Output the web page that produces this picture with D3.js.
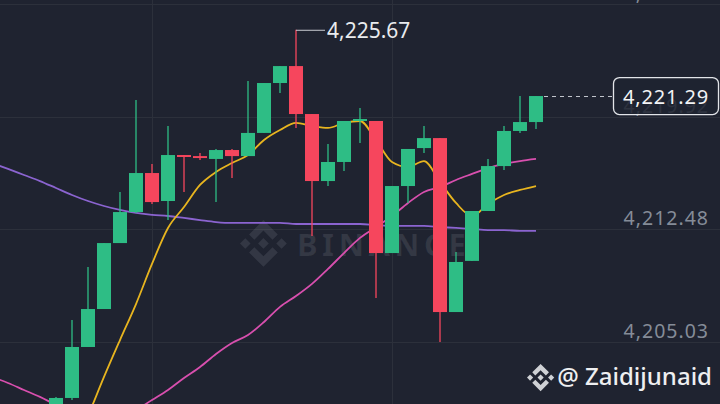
<!DOCTYPE html>
<html>
<head>
<meta charset="utf-8">
<script src="https://cdn.jsdelivr.net/npm/d3@7"></script>
<style>
  html, body { margin: 0; padding: 0; background: #1f2330; overflow: hidden; }
  .chart { width: 720px; height: 404px; }
</style>
</head>
<body>
<div class="chart"></div>
<script>
// candles, left to right (first visible one is index 0)
const opens  = [4199.90, 4201.33, 4204.70, 4207.21, 4211.57, 4213.62, 4216.20, 4214.35, 4217.39, 4217.32,
                4217.13, 4217.72, 4217.32, 4218.85, 4222.15, 4223.27, 4220.10, 4215.67, 4216.93, 4219.64,
                4219.64, 4210.91, 4215.34, 4217.85, 4218.51, 4207.01, 4210.39, 4213.69, 4216.66, 4218.98, 4219.57];
const highs  = [4201.40, 4206.49, 4209.99, 4211.57, 4214.95, 4221.03, 4216.80, 4219.31, 4217.39, 4217.52,
                4217.79, 4217.79, 4222.28, 4222.15, 4223.27, 4225.67, 4220.10, 4218.12, 4219.64, 4220.50,
                4219.64, 4215.34, 4217.79, 4219.31, 4218.51, 4210.98, 4213.69, 4217.13, 4219.31, 4221.29, 4221.29];
const lows   = [4199.50, 4201.20, 4204.70, 4207.21, 4211.57, 4213.56, 4214.15, 4213.09, 4214.95, 4217.06,
                4214.28, 4215.87, 4217.32, 4218.85, 4221.49, 4219.18, 4212.04, 4215.34, 4216.33, 4218.18,
                4207.94, 4210.91, 4214.22, 4217.52, 4205.03, 4207.01, 4210.39, 4213.69, 4216.40, 4218.85, 4219.11];
const closes = [4201.33, 4204.70, 4207.21, 4211.57, 4213.62, 4216.20, 4214.28, 4217.39, 4217.26, 4217.19,
                4217.72, 4217.32, 4218.85, 4222.15, 4223.27, 4220.10, 4215.67, 4216.93, 4219.64, 4219.77,
                4210.91, 4215.34, 4217.79, 4218.51, 4207.01, 4210.32, 4213.69, 4216.66, 4218.98, 4219.57, 4221.29];

// moving averages, these start 4 candles before the first visible candle
const maOffset = 4;
const ma7  = [null, null, null, null, null, 4197.76, 4200.14, 4202.72, 4205.16, 4207.54,
              4210.19, 4212.57, 4213.95, 4215.41, 4216.27, 4216.86, 4217.39, 4218.38, 4219.04, 4219.51,
              4219.31, 4219.18, 4219.51, 4219.64, 4218.38, 4216.93, 4216.60, 4216.99, 4215.61, 4214.22,
              4213.36, 4214.15, 4214.75, 4215.08, 4215.34];
const ma25 = [4202.72, 4202.32, 4201.86, 4201.40, 4200.87, 4200.41, 4200.01, 4199.88, 4200.08, 4200.54,
              4201.20, 4201.86, 4202.65, 4203.38, 4204.24, 4204.97, 4205.49, 4206.35, 4207.35, 4208.07,
              4208.87, 4209.86, 4210.91, 4211.91, 4212.63, 4213.36, 4214.22, 4214.95, 4215.28, 4215.74,
              4216.14, 4216.53, 4216.80, 4216.99, 4217.13];
const ma99 = [4216.86, 4216.47, 4216.07, 4215.67, 4215.21, 4214.75, 4214.35, 4214.02, 4213.76, 4213.56,
              4213.43, 4213.36, 4213.23, 4213.09, 4212.96, 4212.90, 4212.90, 4212.90, 4212.90, 4212.83,
              4212.83, 4212.83, 4212.83, 4212.83, 4212.76, 4212.70, 4212.70, 4212.70, 4212.63, 4212.57,
              4212.50, 4212.43, 4212.43, 4212.37, 4212.37];

const priceTicks = [4205.03, 4212.48, 4219.92, 4227.37];
const gridCandles = [6, 21];   // vertical grid lines sit on these candles
const lastPrice = 4221.29;
const maxPrice = 4225.67;
const maxIndex = 15;

const W = 720, H = 404;
const fmt = d3.format(",.2f");
const font = "'Noto Sans', 'Open Sans', sans-serif";

const svg = d3.select(".chart").append("svg")
  .attr("width", W).attr("height", H);

svg.append("rect").attr("width", W).attr("height", H).attr("fill", "#1f2330");

const x = d3.scaleLinear().domain([0, closes.length - 1]).range([56, 536]);
const y = d3.scaleLinear().domain([4205.03, 4212.48]).range([342, 229.3]);

//grid
const grid = svg.append("g").attr("stroke", "#2c303b").attr("stroke-width", 1);
grid.selectAll("line.h").data(priceTicks).enter().append("line")
  .attr("class", "h")
  .attr("x1", 0).attr("x2", W)
  .attr("y1", d => Math.round(y(d)) + 0.5).attr("y2", d => Math.round(y(d)) + 0.5);
grid.selectAll("line.v").data(gridCandles).enter().append("line")
  .attr("class", "v")
  .attr("y1", 0).attr("y2", H)
  .attr("x1", d => x(d) + 0.5).attr("x2", d => x(d) + 0.5);

//watermark
const logoPaths = [
  "M38.73 53.2L63.3 28.63L87.9 53.22L102.2 38.92L63.3 0L24.42 38.9Z",
  "M0 63.31L14.3 49.01L28.6 63.31L14.3 77.61Z",
  "M38.73 73.42L63.3 97.99L87.9 73.4L102.2 87.69L63.3 126.61L24.42 87.71Z",
  "M98 63.31L112.3 49.01L126.6 63.31L112.3 77.61Z",
  "M77.83 63.3L63.3 48.76L48.77 63.28L63.3 77.82Z"
];
const wm = svg.append("g").attr("transform", "translate(240,220) scale(0.37)");
wm.selectAll("path").data(logoPaths).enter().append("path")
  .attr("d", d => d).attr("fill", "rgba(200,205,215,0.12)");
svg.append("text")
  .attr("x", 297).attr("y", 256)
  .attr("font-family", font).attr("font-weight", 700)
  .attr("font-size", 31).attr("letter-spacing", 4.5)
  .attr("fill", "rgba(200,205,215,0.12)")
  .text("BINANCE");

//axis labels
svg.append("g").selectAll("text").data(priceTicks).enter().append("text")
  .attr("x", 709).attr("y", d => y(d) - 4)
  .attr("text-anchor", "end")
  .attr("font-family", font).attr("font-size", 19.5).attr("letter-spacing", 1)
  .attr("fill", "#858c98")
  .text(d => fmt(d));

//moving averages
function maLine(data, color) {
  const line = d3.line()
    .defined(d => d != null)
    .x((d, i) => x(i - maOffset))
    .y(d => y(d))
    .curve(d3.curveMonotoneX);
  svg.append("path").datum(data)
    .attr("d", line)
    .attr("fill", "none")
    .attr("stroke", color)
    .attr("stroke-width", 1.8);
}
maLine(ma99, "#8b64d0");
maLine(ma25, "#d84fae");
maLine(ma7, "#e8b51f");

//candles
const candles = closes.map((c, i) => ({ i, o: opens[i], h: highs[i], l: lows[i], c }));
const cg = svg.append("g");
const green = "#2ebd85", red = "#f6465d";
cg.selectAll("line").data(candles).enter().append("line")
  .attr("x1", d => x(d.i)).attr("x2", d => x(d.i))
  .attr("y1", d => y(d.h)).attr("y2", d => y(d.l))
  .attr("stroke", d => d.c >= d.o ? green : red)
  .attr("stroke-width", 1.3);
cg.selectAll("rect").data(candles).enter().append("rect")
  .attr("x", d => x(d.i) - 7)
  .attr("width", 14)
  .attr("y", d => y(Math.max(d.o, d.c)))
  .attr("height", d => Math.max(1.2, Math.abs(y(d.o) - y(d.c))))
  .attr("fill", d => d.c >= d.o ? green : red);

//highest price marker
const my = y(maxPrice);
svg.append("line")
  .attr("x1", x(maxIndex)).attr("x2", x(maxIndex) + 29)
  .attr("y1", my + 0.5).attr("y2", my + 0.5)
  .attr("stroke", "#c9ccd2").attr("stroke-width", 1);
svg.append("text")
  .attr("x", x(maxIndex) + 31).attr("y", my + 8)
  .attr("font-family", font).attr("font-size", 21)
  .attr("fill", "#e9ebee")
  .text(fmt(maxPrice));

//last price line + box
const ly = y(lastPrice);
svg.append("line")
  .attr("x1", x(closes.length - 1) + 8).attr("x2", 613)
  .attr("y1", ly + 0.5).attr("y2", ly + 0.5)
  .attr("stroke", "#c4c8cf").attr("stroke-width", 1)
  .attr("stroke-dasharray", "4,4");
svg.append("rect")
  .attr("x", 613.5).attr("y", ly - 18.5)
  .attr("width", 105).attr("height", 37).attr("rx", 6)
  .attr("fill", "rgba(31,35,48,0.85)")
  .attr("stroke", "#e2e4e8").attr("stroke-width", 1.3);
svg.append("text")
  .attr("x", 666).attr("y", ly + 7.5)
  .attr("text-anchor", "middle")
  .attr("font-family", font).attr("font-size", 20).attr("letter-spacing", 0.8)
  .attr("fill", "#f2f3f5")
  .text(fmt(lastPrice));

//signature
const sig = svg.append("g").attr("transform", "translate(527,364) scale(0.215)");
sig.selectAll("path").data(logoPaths).enter().append("path")
  .attr("d", d => d).attr("fill", "#cfd1d5");
svg.append("text")
  .attr("x", 712).attr("y", 385)
  .attr("text-anchor", "end")
  .attr("font-family", font).attr("font-size", 24).attr("font-weight", 500)
  .attr("fill", "#eeeff1")
  .text("@ Zaidijunaid");
</script>
</body>
</html>
